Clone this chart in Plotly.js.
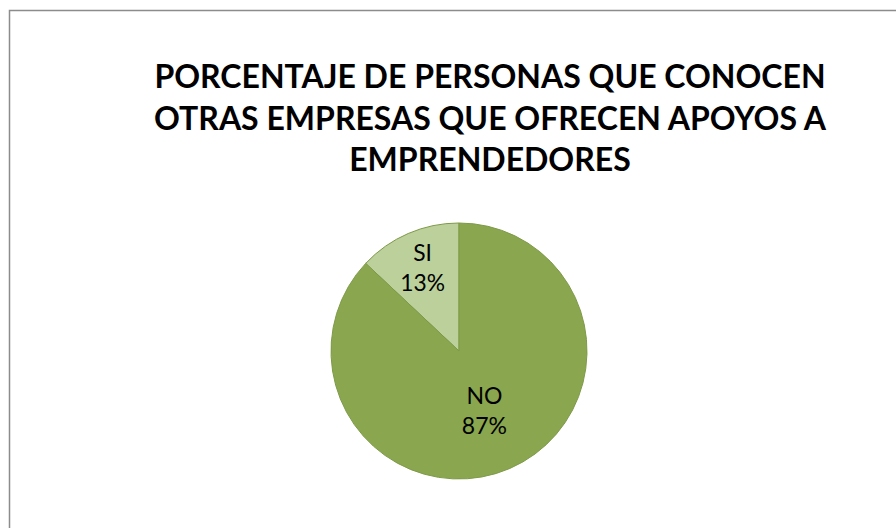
<!DOCTYPE html>
<html><head><meta charset="utf-8">
<script src="https://cdn.plot.ly/plotly-3.0.1.min.js"></script>
<style>html,body{margin:0;padding:0;background:#fff}#c{width:896px;height:528px}</style>
</head><body><div id="c"></div>
<script>
const categories = ["SI", "NO"];
const percentages = [13, 87];
const sliceColors = ["#BBD09A", "#8AA64E"];
const chartTitle = "PORCENTAJE DE PERSONAS QUE CONOCEN<br>OTRAS EMPRESAS QUE OFRECEN APOYOS A<br>EMPRENDEDORES";

const W = 896, H = 528;
const cx = 459, cy = 351, r = 128;
const total = percentages.reduce((a, b) => a + b, 0);

const trace = {
  type: "pie",
  labels: categories,
  values: percentages,
  sort: false,
  direction: "clockwise",
  rotation: -percentages[0] / total * 360,
  marker: {colors: sliceColors, line: {color: "#7E9A48", width: 1}},
  texttemplate: "%{label}<br>%{percent:.0%}",
  textposition: "inside",
  insidetextorientation: "horizontal",
  textfont: {family: "Lato, 'Open Sans', sans-serif", size: 23, color: "#000"},
  hoverinfo: "none",
  showlegend: false,
  domain: {x: [(cx - r) / W, (cx + r) / W], y: [(H - cy - r) / H, (H - cy + r) / H]}
};

const layout = {
  width: W, height: H,
  margin: {l: 0, r: 0, t: 0, b: 0},
  paper_bgcolor: "#fff",
  showlegend: false,
  title: {
    text: chartTitle,
    font: {family: "Lato, 'Open Sans', sans-serif", size: 32, color: "#000", weight: "bold"},
    x: 490 / W, xanchor: "center",
    y: 1 - 88 / H, yanchor: "top", yref: "container"
  },
  shapes: [{
    type: "rect", xref: "paper", yref: "paper",
    x0: 9.5 / W, x1: 1.05, y0: -0.05, y1: 1 - 10.5 / H,
    line: {color: "#8C8C8C", width: 1.5}, fillcolor: "rgba(0,0,0,0)"
  }]
};

Plotly.newPlot("c", [trace], layout, {displayModeBar: false, staticPlot: true});
</script>
</body></html>
